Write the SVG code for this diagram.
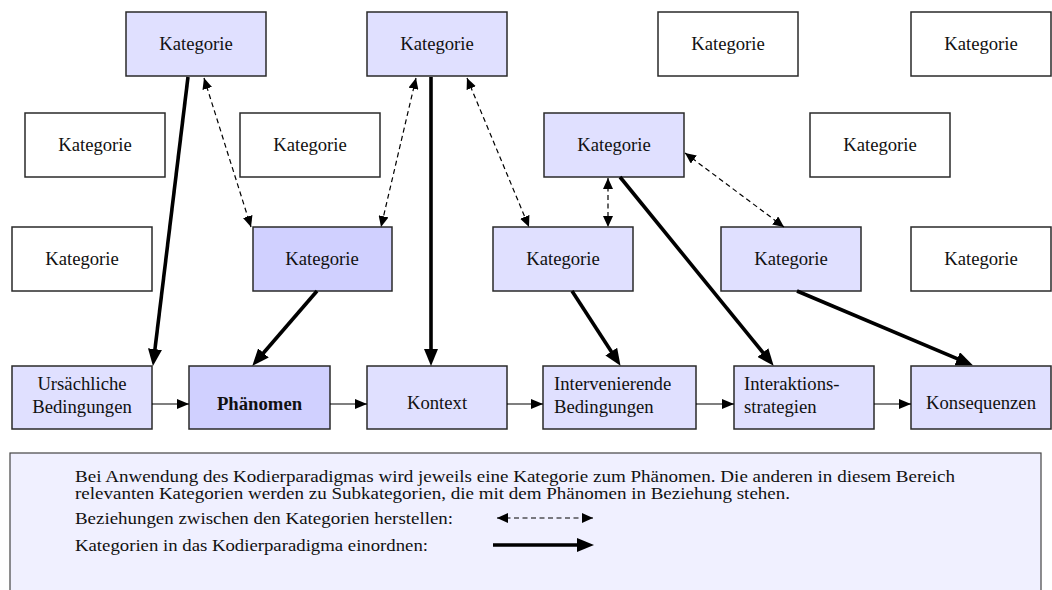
<svg xmlns="http://www.w3.org/2000/svg" width="1052" height="590" viewBox="0 0 1052 590">
  <style>
    text { font-family: "Liberation Serif", "Times New Roman", serif; font-size: 18.7px; fill: #111; }
    .c { text-anchor: middle; }
    .b { font-weight: bold; }
    .note { font-size: 16px; }
    .box { stroke: #2a2a2a; stroke-width: 1.5; }
    .plain { fill: #ffffff; }
    .sub { fill: #e0e0ff; }
    .core { fill: #d0d0ff; }
    .thick { stroke: #000; stroke-width: 3.6; fill: none; marker-end: url(#headBig); }
    .thin { stroke: #000; stroke-width: 1.2; fill: none; marker-end: url(#headSmall); }
    .dash { stroke: #000; stroke-width: 1.2; fill: none; stroke-dasharray: 5 3.5; marker-start: url(#headDash); marker-end: url(#headDash); }
  </style>
  <defs>
    <marker id="headBig" markerUnits="userSpaceOnUse" markerWidth="17" markerHeight="14" refX="3" refY="7" orient="auto">
      <path d="M0,0 L17,7 L0,14 z" fill="#000"/>
    </marker>
    <marker id="headSmall" markerUnits="userSpaceOnUse" markerWidth="12" markerHeight="10" refX="12" refY="5" orient="auto">
      <path d="M0,0 L12,5 L0,10 z" fill="#000"/>
    </marker>
    <marker id="headDash" markerUnits="userSpaceOnUse" markerWidth="11" markerHeight="10" refX="11" refY="5" orient="auto-start-reverse">
      <path d="M0,0 L11,5 L0,10 z" fill="#000"/>
    </marker>
  </defs>

  <!-- row 1 -->
  <g id="k-r1-1"><rect class="box sub" x="126" y="12" width="140" height="64"/><text class="c" x="196" y="50">Kategorie</text></g>
  <g id="k-r1-2"><rect class="box sub" x="367" y="12" width="140" height="64"/><text class="c" x="437" y="50">Kategorie</text></g>
  <g id="k-r1-3"><rect class="box plain" x="658" y="12" width="140" height="64"/><text class="c" x="728" y="50">Kategorie</text></g>
  <g id="k-r1-4"><rect class="box plain" x="911" y="12" width="140" height="64"/><text class="c" x="981" y="50">Kategorie</text></g>

  <!-- row 2 -->
  <g id="k-r2-1"><rect class="box plain" x="25" y="113" width="140" height="64"/><text class="c" x="95" y="151">Kategorie</text></g>
  <g id="k-r2-2"><rect class="box plain" x="240" y="113" width="140" height="64"/><text class="c" x="310" y="151">Kategorie</text></g>
  <g id="k-r2-3"><rect class="box sub" x="544" y="113" width="140" height="64"/><text class="c" x="614" y="151">Kategorie</text></g>
  <g id="k-r2-4"><rect class="box plain" x="810" y="113" width="140" height="64"/><text class="c" x="880" y="151">Kategorie</text></g>

  <!-- row 3 -->
  <g id="k-r3-1"><rect class="box plain" x="12" y="227" width="140" height="64"/><text class="c" x="82" y="265">Kategorie</text></g>
  <g id="k-r3-2"><rect class="box core" x="253" y="227" width="139" height="64"/><text class="c" x="322" y="265">Kategorie</text></g>
  <g id="k-r3-3"><rect class="box sub" x="493" y="227" width="140" height="64"/><text class="c" x="563" y="265">Kategorie</text></g>
  <g id="k-r3-4"><rect class="box sub" x="721" y="227" width="140" height="64"/><text class="c" x="791" y="265">Kategorie</text></g>
  <g id="k-r3-5"><rect class="box plain" x="911" y="227" width="140" height="64"/><text class="c" x="981" y="265">Kategorie</text></g>

  <!-- paradigm row -->
  <g id="ursachen"><rect class="box sub" x="12" y="366" width="140" height="63"/><text class="c" x="82" y="390">Ursächliche</text><text class="c" x="82" y="413">Bedingungen</text></g>
  <g id="phaenomen"><rect class="box core" x="189" y="366" width="141" height="63"/><text class="c b" x="259.5" y="410">Phänomen</text></g>
  <g id="kontext"><rect class="box sub" x="367" y="366" width="140" height="63"/><text class="c" x="437" y="409">Kontext</text></g>
  <g id="intervenierend"><rect class="box sub" x="543" y="366" width="153" height="63"/><text x="554" y="390">Intervenierende</text><text x="554" y="413">Bedingungen</text></g>
  <g id="strategien"><rect class="box sub" x="734" y="366" width="140" height="63"/><text x="744" y="390">Interaktions-</text><text x="744" y="413">strategien</text></g>
  <g id="konsequenzen"><rect class="box sub" x="911" y="366" width="140" height="63"/><text class="c" x="981" y="409">Konsequenzen</text></g>

  <!-- connectors -->
  <g id="connectors">
    <!-- paradigm sequence -->
    <line class="thin" x1="152" y1="404" x2="189" y2="404"/>
    <line class="thin" x1="330" y1="404" x2="367" y2="404"/>
    <line class="thin" x1="507" y1="404" x2="543" y2="404"/>
    <line class="thin" x1="696" y1="404" x2="734" y2="404"/>
    <line class="thin" x1="874" y1="404" x2="911" y2="404"/>
    <!-- assignments into the paradigm -->
    <line class="thick" x1="188" y1="77" x2="154.6" y2="352.1"/>
    <line class="thick" x1="431" y1="77" x2="431" y2="352"/>
    <line class="thick" x1="317" y1="291" x2="261.5" y2="355.2"/>
    <line class="thick" x1="572" y1="291" x2="612.9" y2="354.1"/>
    <line class="thick" x1="620" y1="177" x2="764.8" y2="354.9"/>
    <line class="thick" x1="797" y1="291" x2="960" y2="359.9"/>
    <!-- relations between categories -->
    <line class="dash" x1="204" y1="78" x2="251" y2="227"/>
    <line class="dash" x1="416" y1="78" x2="381" y2="227"/>
    <line class="dash" x1="467" y1="78" x2="529" y2="227"/>
    <line class="dash" x1="608" y1="178" x2="608" y2="227"/>
    <line class="dash" x1="685" y1="153" x2="784" y2="227"/>
  </g>

  <!-- legend -->
  <g id="legend">
    <rect x="10" y="453" width="1031" height="150" fill="#f0f0ff" stroke="#444" stroke-width="1.2"/>
    <text class="note" x="75" y="482" textLength="880" lengthAdjust="spacingAndGlyphs">Bei Anwendung des Kodierparadigmas wird jeweils eine Kategorie zum Phänomen. Die anderen in diesem Bereich</text>
    <text class="note" x="75" y="499" textLength="715" lengthAdjust="spacingAndGlyphs">relevanten Kategorien werden zu Subkategorien, die mit dem Phänomen in Beziehung stehen.</text>
    <text class="note" x="75" y="524" textLength="378" lengthAdjust="spacingAndGlyphs">Beziehungen zwischen den Kategorien herstellen:</text>
    <text class="note" x="75" y="551" textLength="353" lengthAdjust="spacingAndGlyphs">Kategorien in das Kodierparadigma einordnen:</text>
    <line class="dash" x1="497" y1="518" x2="593" y2="518"/>
    <line class="thick" x1="493" y1="545" x2="580" y2="545"/>
  </g>
</svg>
